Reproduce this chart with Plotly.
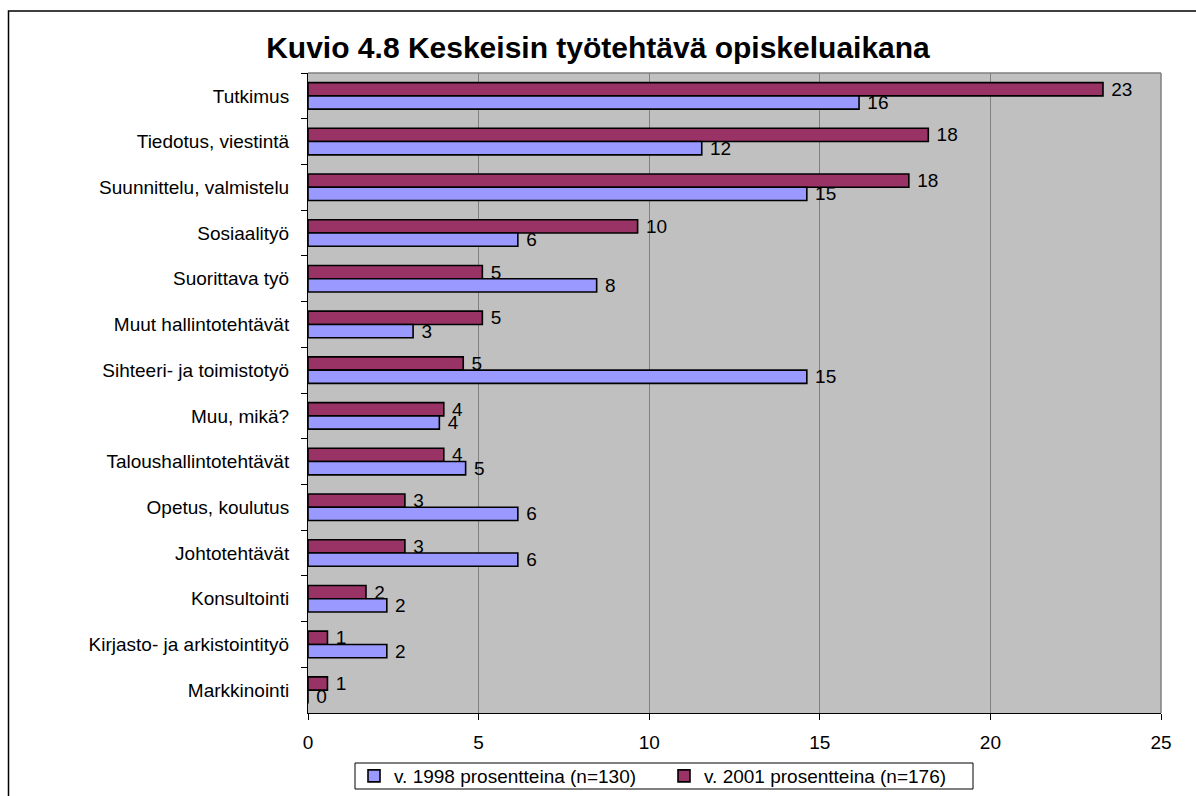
import plotly.graph_objects as go

categories = [
    "Tutkimus",
    "Tiedotus, viestintä",
    "Suunnittelu, valmistelu",
    "Sosiaalityö",
    "Suorittava työ",
    "Muut hallintotehtävät",
    "Sihteeri- ja toimistotyö",
    "Muu, mikä?",
    "Taloushallintotehtävät",
    "Opetus, koulutus",
    "Johtotehtävät",
    "Konsultointi",
    "Kirjasto- ja arkistointityö",
    "Markkinointi",
]

v1998 = [16.15, 11.54, 14.62, 6.15, 8.46, 3.08, 14.62, 3.85, 4.62, 6.15, 6.15, 2.31, 2.31, 0.0]
v2001 = [23.30, 18.18, 17.61, 9.66, 5.11, 5.11, 4.55, 3.98, 3.98, 2.84, 2.84, 1.70, 0.57, 0.57]

name1998 = "v. 1998 prosentteina (n=130)"
name2001 = "v. 2001 prosentteina (n=176)"

FONT = "Arial, Liberation Sans, sans-serif"
FS = 19

fig = go.Figure()
# 2001 first so it is drawn on top within each category (reversed y axis)
fig.add_trace(go.Bar(
    y=categories, x=v2001, orientation="h", name=name2001,
    marker=dict(color="#993366", line=dict(color="black", width=1.6)),
    text=[f" {v:.0f}" for v in v2001], textposition="outside",
    textfont=dict(family=FONT, size=FS, color="black"),
    constraintext="none", cliponaxis=False,
))
fig.add_trace(go.Bar(
    y=categories, x=v1998, orientation="h", name=name1998,
    marker=dict(color="#9999FF", line=dict(color="black", width=1.6)),
    text=[f" {v:.0f}" for v in v1998], textposition="outside",
    textfont=dict(family=FONT, size=FS, color="black"),
    constraintext="none", cliponaxis=False,
))

W, H = 1196, 796
L, R, T, B = 308, 35, 73, 83
pw, ph = W - L - R, H - T - B

def px_x(p):
    return (p - L) / pw

def px_y(p):
    return (H - B - p) / ph

fig.update_layout(
    width=W, height=H,
    margin=dict(l=L, r=R, t=T, b=B, autoexpand=False),
    paper_bgcolor="white",
    plot_bgcolor="#C0C0C0",
    barmode="group",
    bargap=0.42,
    bargroupgap=0.0,
    font=dict(family=FONT, size=FS, color="black"),
    title=dict(
        text="<b>Kuvio 4.8 Keskeisin työtehtävä opiskeluaikana</b>",
        x=0.5, xref="container", xanchor="center",
        y=1 - 47 / H, yref="container", yanchor="middle",
        font=dict(family=FONT, size=30, color="black"),
    ),
    xaxis=dict(
        range=[0, 25], dtick=5, tick0=0,
        showgrid=True, gridcolor="#808080", gridwidth=1,
        zeroline=False,
        showline=True, linecolor="black", linewidth=1,
        ticks="outside", ticklen=6, tickcolor="black",
        ticklabelstandoff=6,
        tickfont=dict(family=FONT, size=FS, color="black"),
    ),
    yaxis=dict(
        categoryorder="array", categoryarray=categories,
        autorange="reversed",
        showgrid=False,
        showline=True, linecolor="black", linewidth=1,
        ticks="outside", ticklen=6, tickcolor="black",
        tickson="boundaries",
        ticklabelstandoff=14,
        tickfont=dict(family=FONT, size=FS, color="black"),
    ),
    legend=dict(
        orientation="h",
        x=px_x(664), xanchor="center",
        y=px_y(776), yanchor="middle",
        borderwidth=0,
        bgcolor="rgba(0,0,0,0)",
        font=dict(family=FONT, size=FS, color="black"),
        itemwidth=30,
        entrywidth=265, entrywidthmode="pixels",
        traceorder="reversed",
        tracegroupgap=0,
    ),
    showlegend=True,
)

# plot-area top/right border (gray)
fig.add_shape(type="line", xref="paper", yref="paper", x0=0, x1=1, y0=1, y1=1,
              line=dict(color="#808080", width=1.5))
fig.add_shape(type="line", xref="paper", yref="paper", x0=1, x1=1, y0=0, y1=1,
              line=dict(color="#808080", width=1.5))

# outer chart border
fig.add_shape(type="rect", xref="paper", yref="paper",
              x0=px_x(8.5), x1=px_x(1250), y0=px_y(850), y1=px_y(11),
              line=dict(color="black", width=1.5), fillcolor="rgba(0,0,0,0)",
              layer="below")

# legend box
fig.add_shape(type="rect", xref="paper", yref="paper",
              x0=px_x(355), x1=px_x(973), y0=px_y(789), y1=px_y(763),
              line=dict(color="black", width=1), fillcolor="white",
              layer="below")

fig.write_html(
    "out.html",
    config={"displayModeBar": False},
    post_script="document.body.style.margin='0';document.body.style.overflow='hidden';",
)
